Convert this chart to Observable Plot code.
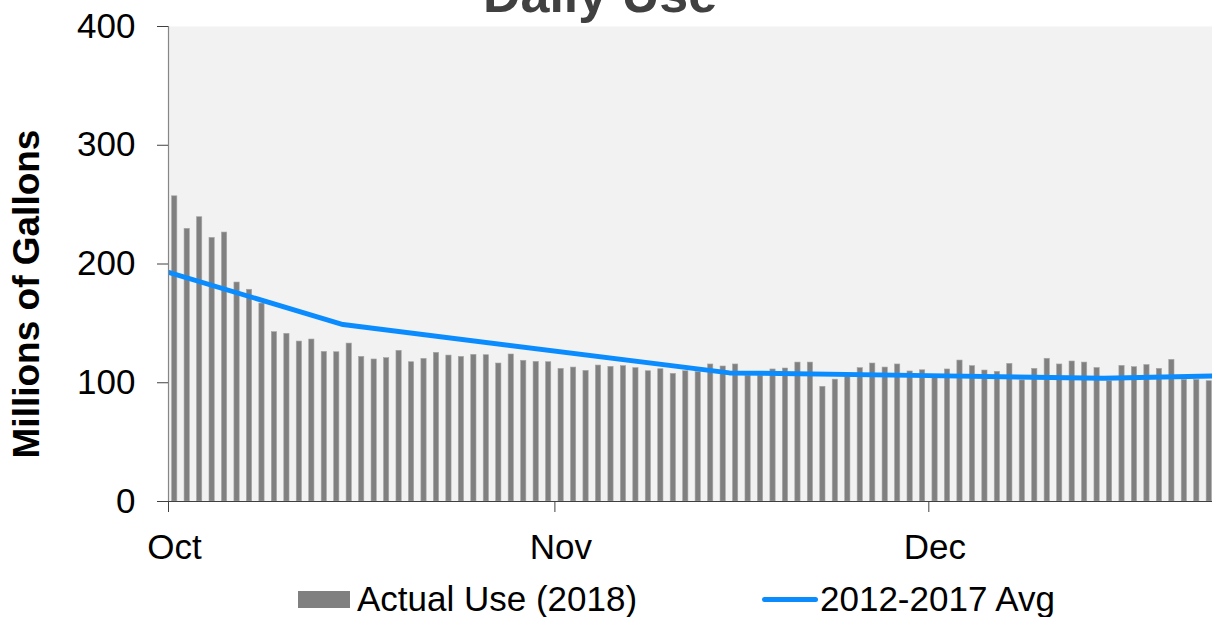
<!DOCTYPE html>
<html><head><meta charset="utf-8">
<script src="https://cdn.jsdelivr.net/npm/d3@7"></script>
<script src="https://cdn.jsdelivr.net/npm/@observablehq/plot@0.6"></script>
<style>
html,body{margin:0;padding:0;background:#fff;overflow:hidden;}
#wrap{position:relative;width:1212px;height:617px;overflow:hidden;font-family:"Liberation Sans",Arial,sans-serif;}
.leg{position:absolute;font-size:35px;line-height:35px;color:#000;white-space:nowrap;}
.sw{position:absolute;}
</style></head>
<body><div id="wrap"><div id="chart"></div><div id="legend"></div></div>
<script>
const title = "Daily Use";
const yLabel = "Millions of Gallons";
const startDay = "2018-10-01";
const actualUse = [
  257, 229.6, 239.4, 222, 226.5, 184.4, 178.3, 166.7, 142.6, 141.2,
  134.7, 136.4, 126, 125.7, 133, 121.8, 119.6, 120.7, 126.9, 117.3,
  120.1, 125.2, 122.9, 121.8, 123.5, 123.2, 116.2, 123.8, 118.5, 117.6, 117.3,
  111.7, 112.8, 110, 114.5, 113.4, 114, 112.3, 109.7, 111.4, 107.5,
  109.7, 109, 115.4, 113.7, 115.4, 106, 106, 111.2, 112, 117,
  117, 96.6, 102.6, 105, 112.3, 116.2, 112.8, 115.4, 109.5, 110.5,
  105, 111.2, 118.7, 114, 110.3, 109.2, 115.9, 102, 111.7, 120.2,
  115.4, 117.9, 117, 112.4, 101.3, 114.2, 113.1, 114.9, 111.7, 119.3,
  102.5, 102.5, 101.3
];
const avgDates = ["2018-10-01", "2018-10-15", "2018-11-15", "2018-12-01", "2018-12-15", "2018-12-24"];
const avgValues = [193, 149, 108.3, 106, 103.7, 105.8];
const yTicks = [0, 100, 200, 300, 400];
const monthTicks = ["2018-10-01", "2018-11-01", "2018-12-01"];
const monthLabels = ["Oct", "Nov", "Dec"];
const seriesNames = ["Actual Use (2018)", "2012-2017 Avg"];
const barColor = "#808080";
const lineColor = "#0a8cff";

const parse = d3.utcParse("%Y-%m-%d");
const fmt = d3.utcFormat("%Y-%m-%d");
const start = parse(startDay);
const bars = actualUse.map((v, i) => ({date: d3.utcDay.offset(start, i), value: v}));
const avg = avgDates.map((d, i) => ({date: parse(d), value: avgValues[i]}));
const end = d3.utcDay.offset(start, actualUse.length);
const monthDates = monthTicks.map(parse);

const chart = Plot.plot({
  width: 1215,
  height: 580,
  marginLeft: 168,
  marginRight: 0,
  marginTop: 26,
  marginBottom: 79,
  x: {type: "utc", domain: [start, end]},
  y: {domain: [0, 400]},
  style: {fontFamily: "'Liberation Sans', Arial, sans-serif", fontSize: "35px", color: "#000", background: "transparent", maxWidth: "none"},
  marks: [
    Plot.frame({fill: "#f2f2f2", stroke: "none"}),
    Plot.rectY(bars, {x: "date", interval: d3.utcDay, y: "value", fill: barColor, stroke: "#a6a6a6", strokeWidth: 0.6, insetLeft: 3.6, insetRight: 3.6}),
    Plot.line(avg, {x: "date", y: "value", stroke: lineColor, strokeWidth: 5, strokeLinejoin: "round", clip: true}),
    Plot.ruleX([start], {stroke: "#868686", strokeWidth: 1.2}),
    Plot.ruleY([0], {stroke: "#404040", strokeWidth: 1.2}),
    Plot.axisY({ticks: yTicks, tickSize: 11, tickPadding: 22, fontSize: 35, label: null, stroke: "#404040", tickFormat: d => String(d)}),
    Plot.axisX({ticks: monthDates, tickSize: 11, label: null, stroke: "#404040", tickFormat: () => ""}),
    Plot.axisX({ticks: monthDates, tickSize: 0, tickPadding: 33, dx: 6, fontSize: 35, label: null,
      tickFormat: d => monthLabels[monthTicks.indexOf(fmt(d))]}),
    Plot.text([title], {frameAnchor: "top", dx: -92, dy: -31, lineAnchor: "middle", fontSize: 52, fontWeight: "bold", fill: "#404040"}),
    Plot.text([yLabel], {frameAnchor: "left", textAnchor: "middle", rotate: -90, dx: -141, dy: 30, lineAnchor: "middle", fontSize: 37, fontWeight: "bold", fill: "#000"})
  ]
});
document.getElementById("chart").appendChild(chart);

const leg = document.getElementById("legend");
leg.innerHTML = `
  <div class="sw" style="left:298px;top:591px;width:52px;height:17px;background:${barColor}"></div>
  <div class="leg" style="left:357px;top:581px">${seriesNames[0]}</div>
  <div class="sw" style="left:762px;top:597px;width:56px;height:5px;border-radius:3px;background:${lineColor}"></div>
  <div class="leg" style="left:820px;top:581px">${seriesNames[1]}</div>`;
</script>
</body></html>
